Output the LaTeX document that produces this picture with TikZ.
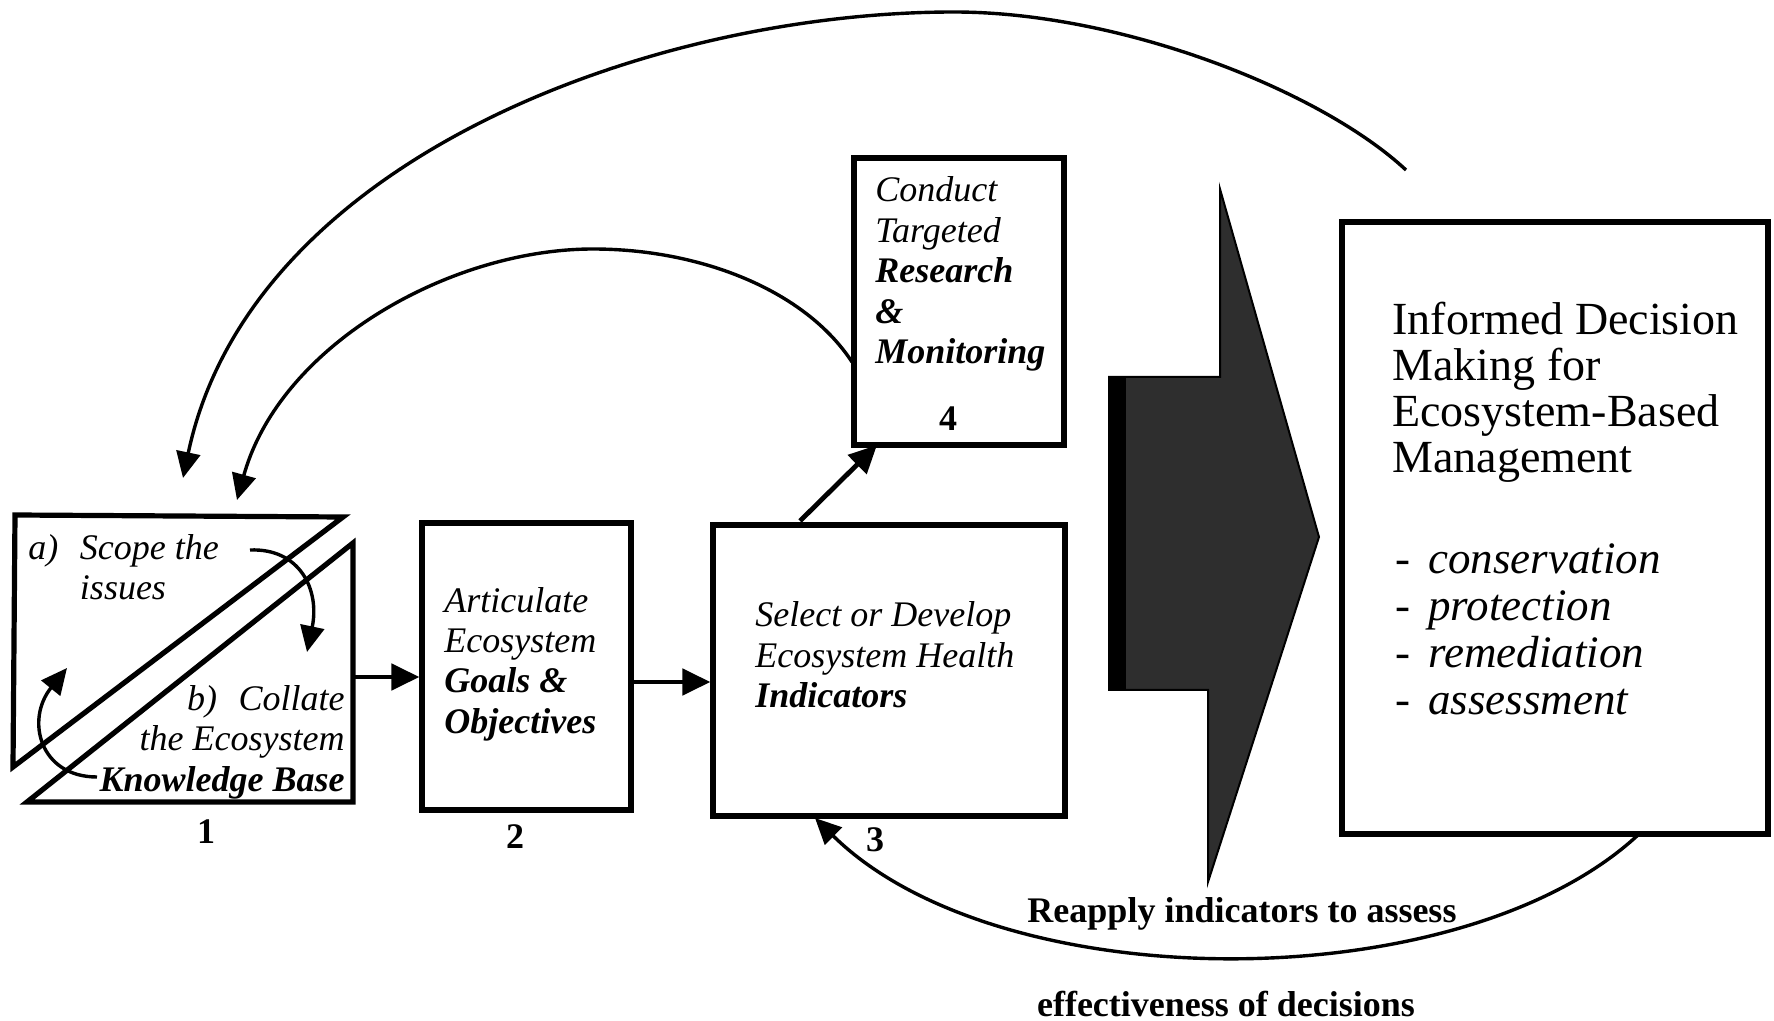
\documentclass[tikz,border=0pt]{standalone}
\usepackage{fontspec}
\setmainfont{Liberation Serif}
\usetikzlibrary{arrows.meta,calc}
\begin{document}
\begin{tikzpicture}[x=0.5pt,y=-0.5pt,
  boxline/.style={draw=black, line width=2.6pt, line join=miter},
  stepbox/.style={boxline, inner sep=0pt},
  bigtip/.style={-{Triangle[length=14pt,width=13pt]}},
  smalltip/.style={-{Triangle[length=13pt,width=12pt]}},
  arr/.style={line width=2.4pt, bigtip},
  curve/.style={line width=1.7pt, smalltip},
  txt/.style={font=\fontsize{18}{20.2}\selectfont\itshape, align=left, inner sep=0pt},
  num/.style={font=\fontsize{18}{20}\selectfont\bfseries, inner sep=0pt},
  title/.style={font=\fontsize{23}{23}\selectfont, align=left, inner sep=0pt},
  list/.style={font=\fontsize{22.5}{23.5}\selectfont, align=left, inner sep=0pt},
  lbl/.style={font=\fontsize{18}{20}\selectfont\bfseries, inner sep=0pt},
]
\useasboundingbox (0,0) rectangle (1774,1021);

% step 1: the two triangles
\draw[boxline] (15,515) -- (343,517) -- (13,767) -- cycle;
\draw[boxline] (353,543) -- (353,802) -- (27,802) -- cycle;
\coordinate (b1e) at (353,677);
\node[txt, anchor=west] (t1a) at (28,571) {a)\hspace{0.6em}Scope the\\\phantom{a)\hspace{0.6em}}issues};
\node[txt, anchor=east, align=right] (t1b) at (345,742) {b)\hspace{0.6em}Collate\\the Ecosystem\\\textbf{Knowledge Base}};
\node[num] (n1) at (206,832) {1};

% small cycling arrows inside step 1
\coordinate (c1s) at (250,550);
\coordinate (c1e) at (307,652);
\draw[curve] (c1s) .. controls (300,548) and (320,590) .. (c1e);
\coordinate (c2s) at (97,777);
\coordinate (c2e) at (67,668);
\draw[curve] (c2s) .. controls (40,777) and (25,720) .. (c2e);

% step 2
\node[stepbox, minimum width=104.5pt, minimum height=143.5pt] (b2) at (526.5,666.5) {};
\node[txt, anchor=west] (t2) at (444,664) {Articulate\\Ecosystem\\\textbf{Goals \&}\\\textbf{Objectives}};
\node[num] (n2) at (515,837) {2};

% step 3
\node[stepbox, minimum width=176pt, minimum height=145.5pt] (b3) at (889,670.5) {};
\node[txt, anchor=west] (t3) at (755,655) {Select or Develop\\Ecosystem Health\\\textbf{Indicators}};
\node[num] (n3) at (875,840) {3};

% step 4
\node[stepbox, minimum width=105pt, minimum height=143.5pt] (b4) at (959,301.5) {};
\node[txt, anchor=west] (t4) at (875,274) {Conduct\\Targeted\\\textbf{Research}\\\textbf{\&}\\\textbf{Monitoring}};
\node[num] (n4) at (948,419) {4};

% outcome box
\node[stepbox, minimum width=213pt, minimum height=306pt] (b5) at (1555,528) {};
\node[title, anchor=west] (t5) at (1392,392) {Informed Decision\\Making for\\Ecosystem-Based\\Management};
\node[list, anchor=west] (t6) at (1395,629) {%
\makebox[16.5pt][l]{-}\textit{conservation}\\
\makebox[16.5pt][l]{-}\textit{protection}\\
\makebox[16.5pt][l]{-}\textit{remediation}\\
\makebox[16.5pt][l]{-}\textit{assessment}};

% big block arrow
\fill[black!82] (1109,377) -- (1220,377) -- (1220,189) -- (1319,537) -- (1208,882) -- (1208,690) -- (1109,690) -- cycle;
\fill[black] (1109,377) rectangle (1126,690);
\draw[line width=1pt] (1109,377) -- (1220,377) -- (1220,189) -- (1319,537) -- (1208,882) -- (1208,690) -- (1109,690) -- cycle;

% straight connectors
\draw[arr] (b1e) -- (b2.west |- b1e);
\coordinate (a23) at (631,682);
\draw[arr] (a23) -- (b3.west |- a23);
\coordinate (a34) at (800,521);
\coordinate (a34e) at (877,445);
\draw[arr] (a34) -- (a34e);

% feedback loops
\coordinate (o1) at (1406,170);
\coordinate (otop) at (954,12);
\coordinate (o2) at (183,478);
\draw[curve] (o1) .. controls (1320,90) and (1120,12) .. (otop)
                  .. controls (650,12) and (250,160) .. (o2);
\coordinate (i1) at (852,362);
\coordinate (itop) at (593,249);
\coordinate (i2) at (237,500);
\draw[curve] (i1) .. controls (805,290) and (700,249) .. (itop)
                  .. controls (450,249) and (280,345) .. (i2);
\coordinate (r1) at (1638,835);
\coordinate (r2) at (815,818);
\draw[curve] (r1) .. controls (1460,1000) and (1000,1000) .. (r2);

\node[lbl] (l1) at (1242,914) {Reapply indicators to assess};
\node[lbl] (l2) at (1226,1004) {effectiveness of decisions};
\end{tikzpicture}
\end{document}
